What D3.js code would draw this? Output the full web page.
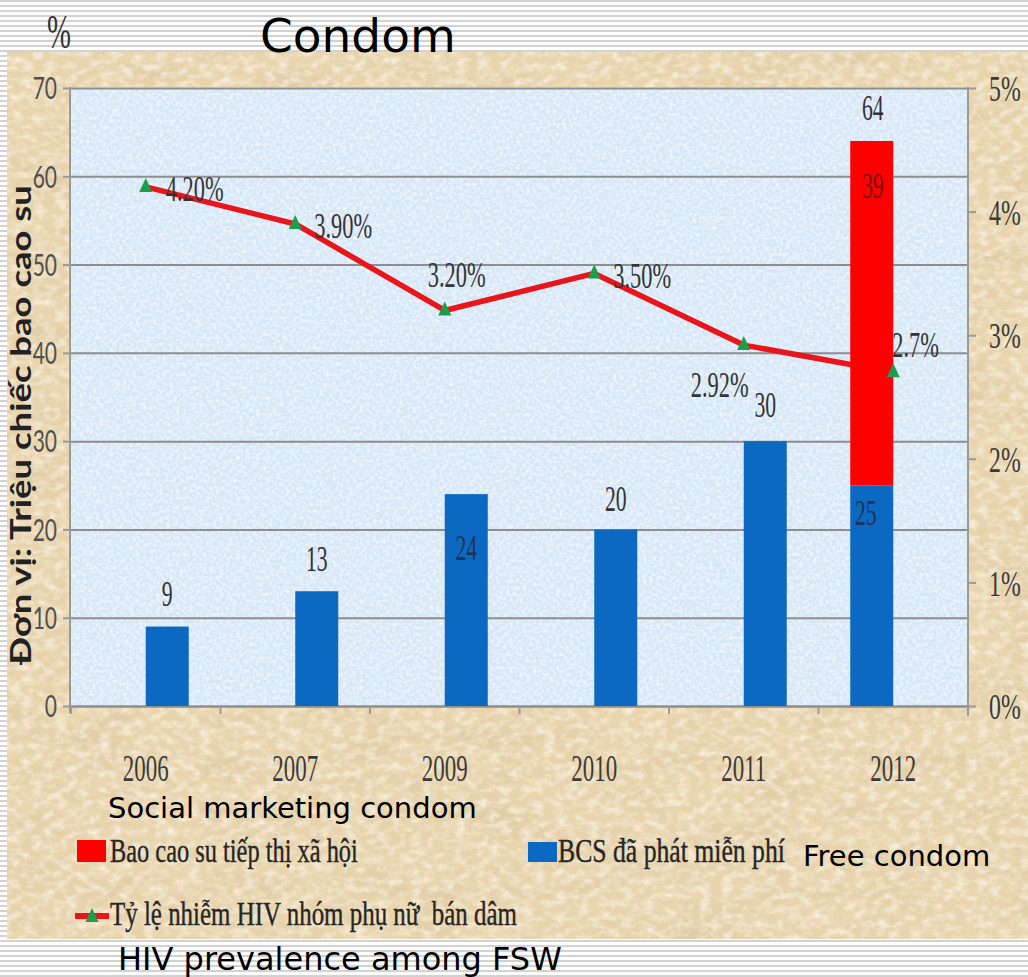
<!DOCTYPE html>
<html><head><meta charset="utf-8">
<script src="https://cdn.jsdelivr.net/npm/d3@7"></script>
<style>html,body{margin:0;padding:0;background:#fff;overflow:hidden}</style>
</head><body>
<svg id="c" width="1028" height="977"></svg>
<script>
// ---- data ----
const categories = ["2006","2007","2009","2010","2011","2012"];
const freeCondom = [9,13,24,20,30,25];
const socialMarketing = [0,0,0,0,0,39];
const hivPrevalence = [4.2,3.9,3.2,3.5,2.92,2.7];
const hivLabels = ["4.20%","3.90%","3.20%","3.50%","2.92%","2.7%"];
const leftTicks = [0,10,20,30,40,50,60,70];
const rightTicks = [0,1,2,3,4,5];
const legendLabels = ["Bao cao su tiếp thị xã hội","BCS đã phát miễn phí","Tỷ lệ nhiễm HIV nhóm phụ nữ  bán dâm"];
const englishNotes = ["Social marketing condom","Free condom","HIV prevalence among FSW"];
const chartTitle = "Condom";
const yTitle = "Đơn vị: Triệu chiếc bao cao su";

// ---- style ----
const barSlot = ["right","right","right","right","right","left"];
const freeLabelDy = [-21,-20,66,-18,-24,40];
const freeLabelDx = [0,0,0,0,0,-6];
const freeLabelColor = ["#333","#333","#1b3357","#333","#333","#1b3357"];
const lineLabelPos = [[20,14,"start"],[19,14,"start"],[12,-23,"middle"],[19,15,"start"],[-24,52,"middle"],[-1,-15,"start"]];
const SERIF = "'Liberation Serif','Times New Roman',serif";
const SANS = "'DejaVu Sans',Verdana,sans-serif";

const svg = d3.select("#c");
const defs = svg.append("defs");
const pat = defs.append("pattern").attr("id","stripes").attr("width",10).attr("height",5).attr("patternUnits","userSpaceOnUse");
pat.append("rect").attr("width",10).attr("height",5).attr("fill","#ffffff");
pat.append("rect").attr("width",10).attr("height",2).attr("fill","#d2d2d2");

const f1 = defs.append("filter").attr("id","parch").attr("x",0).attr("y",0).attr("width",1).attr("height",1);
f1.append("feTurbulence").attr("type","fractalNoise").attr("baseFrequency","0.015 0.04").attr("numOctaves",5).attr("seed",4);
f1.append("feColorMatrix").attr("type","matrix").attr("values","0 0 0 0 0.68  0 0 0 0 0.54  0 0 0 0 0.32  1.0 0 0 0 -0.42");
const f2 = defs.append("filter").attr("id","parch2").attr("x",0).attr("y",0).attr("width",1).attr("height",1);
f2.append("feTurbulence").attr("type","fractalNoise").attr("baseFrequency","0.09 0.14").attr("numOctaves",3).attr("seed",9);
f2.append("feColorMatrix").attr("type","matrix").attr("values","0 0 0 0 1  0 0 0 0 0.97  0 0 0 0 0.9  1.4 0 0 0 -0.55");
const f3 = defs.append("filter").attr("id","speck").attr("x",0).attr("y",0).attr("width",1).attr("height",1);
f3.append("feTurbulence").attr("type","fractalNoise").attr("baseFrequency","0.3").attr("numOctaves",2).attr("seed",7);
f3.append("feColorMatrix").attr("type","matrix").attr("values","0 0 0 0 1  0 0 0 0 1  0 0 0 0 1  1.6 0 0 0 -0.6");

// background
svg.append("rect").attr("width",1028).attr("height",977).attr("fill","url(#stripes)");
svg.append("rect").attr("x",7).attr("y",52).attr("width",1021).attr("height",887).attr("fill","#e8d4ad");
svg.append("rect").attr("x",7).attr("y",52).attr("width",1021).attr("height",887).attr("filter","url(#parch)");
svg.append("rect").attr("x",7).attr("y",52).attr("width",1021).attr("height",887).attr("filter","url(#parch2)");

// scales
const L = 70, R = 968, T = 88, B = 706;
const x = d3.scaleBand().domain(categories).range([L+1, R]);
const y = d3.scaleLinear().domain([0,70]).range([B,T]);
const y2 = d3.scaleLinear().domain([0,5]).range([B,T]);
const slot = d3.scaleBand().domain(["left","right"]).range([-43,43]);
const cx = c => x(c) + x.bandwidth()/2;

// plot area
svg.append("rect").attr("x",L).attr("y",T-1).attr("width",R-L).attr("height",B-T+1).attr("fill","#d5e6f6");
svg.append("rect").attr("x",L).attr("y",T-1).attr("width",R-L).attr("height",B-T+1).attr("filter","url(#speck)");

// gridlines
const grid = svg.append("g").attr("transform",`translate(${L},0)`)
  .call(d3.axisLeft(y).tickValues(leftTicks).tickSize(-(R-L)).tickFormat(""));
grid.select(".domain").remove();
grid.selectAll("line").attr("stroke","#8e8e8e").attr("stroke-width",2);

// left axis
const la = svg.append("g").attr("transform",`translate(${L},0)`)
  .call(d3.axisLeft(y).tickValues(leftTicks).tickSize(7));
la.select(".domain").remove();
la.selectAll("line").attr("stroke","#999").attr("stroke-width",2);
la.selectAll("text").attr("font-family","Lato,'Open Sans',sans-serif").attr("font-size",30)
  .attr("fill","#505050").attr("transform","scale(0.7,1)").attr("x",-13/0.7).attr("dy","0.36em");
svg.append("line").attr("x1",L).attr("x2",L).attr("y1",T-1).attr("y2",B+7).attr("stroke","#9a9a9a").attr("stroke-width",2);

// right axis
const ra = svg.append("g").attr("transform",`translate(${R},0)`)
  .call(d3.axisRight(y2).tickValues(rightTicks).tickSize(8).tickFormat(d => d + "%"));
ra.select(".domain").remove();
ra.selectAll("line").attr("stroke","#999").attr("stroke-width",2);
ra.selectAll("text").attr("font-family",SERIF).attr("font-size",35).attr("fill","#3a3a3a")
  .attr("transform","scale(0.68,1)").attr("x",21/0.68).attr("dy","0.36em");
svg.append("line").attr("x1",R).attr("x2",R).attr("y1",T-1).attr("y2",B+10).attr("stroke","#9a9a9a").attr("stroke-width",2);

// bottom axis
const ba = svg.append("g").attr("transform",`translate(0,${B})`)
  .call(d3.axisBottom(x).tickSize(0).tickPadding(0));
ba.select(".domain").attr("stroke","#8e8e8e").attr("stroke-width",2);
ba.selectAll("text").attr("font-family",SERIF).attr("font-size",37).attr("fill","#3a3a3a")
  .attr("transform","scale(0.62,1)").attr("y",75).attr("dy",0);
svg.append("g").selectAll("line").data(categories.concat(["__end"])).join("line")
  .attr("x1",d => d === "__end" ? R : x(d)).attr("x2",d => d === "__end" ? R : x(d))
  .attr("y1",B).attr("y2",B+8).attr("stroke","#999").attr("stroke-width",2);

// HIV line (behind bars)
const pts = categories.map((c,i) => ({c, v: hivPrevalence[i], lab: hivLabels[i], i}));
svg.append("path").datum(pts)
  .attr("d", d3.line().x(d => cx(d.c)).y(d => y2(d.v)))
  .attr("fill","none").attr("stroke","#e8151b").attr("stroke-width",5.5).attr("stroke-linejoin","round");

// bars
const bars = categories.map((c,i) => ({c, free: freeCondom[i], soc: socialMarketing[i], slot: barSlot[i], i}));
svg.append("g").selectAll("rect").data(bars).join("rect")
  .attr("x", d => cx(d.c) + slot(d.slot)).attr("width", slot.bandwidth())
  .attr("y", d => y(d.free)).attr("height", d => y(0) - y(d.free)).attr("fill","#0b69c2");
svg.append("g").selectAll("rect").data(bars.filter(d => d.soc > 0)).join("rect")
  .attr("x", d => cx(d.c) + slot(d.slot)).attr("width", slot.bandwidth())
  .attr("y", d => y(d.free + d.soc)).attr("height", d => y(d.free) - y(d.free + d.soc)).attr("fill","#fe0000");

// markers
const tri = "M0,-9L6.5,5L-6.5,5Z";
svg.append("g").selectAll("path").data(pts).join("path")
  .attr("d", tri).attr("transform", d => `translate(${cx(d.c)},${y2(d.v)})`).attr("fill","#1c9e4c");

// condensed text helper
function ctext(g, px, py, str, size, sx, anchor, color, family) {
  return g.append("text").attr("transform",`translate(${px},${py}) scale(${sx},1)`)
    .attr("text-anchor",anchor).attr("font-family",family || SERIF).attr("font-size",size)
    .attr("fill",color).style("white-space","pre").text(str);
}
// text fitted to a width by horizontal scaling
function fitText(g, px, py, str, size, width, color, family, weight, rot) {
  const t = g.append("text").attr("font-family",family).attr("font-size",size)
    .attr("font-weight",weight || "normal").attr("fill",color).style("white-space","pre").text(str);
  const w = t.node().getComputedTextLength();
  const s = width / w;
  if (rot) t.attr("text-anchor","middle").attr("transform",`translate(${px},${py}) rotate(${rot}) scale(${s},1)`);
  else t.attr("transform",`translate(${px},${py}) scale(${s},1)`);
  return t;
}
const lg = svg.append("g");
// line labels
pts.forEach(d => {
  const p = lineLabelPos[d.i];
  ctext(lg, cx(d.c) + p[0], y2(d.v) + p[1], d.lab, 35, 0.64, p[2], "#333");
});
// bar labels
bars.forEach(d => {
  const bx = cx(d.c) + slot(d.slot) + slot.bandwidth()/2;
  ctext(lg, bx + freeLabelDx[d.i], y(d.free) + freeLabelDy[d.i], String(d.free), 35, 0.62, "middle", freeLabelColor[d.i]);
  if (d.soc > 0) {
    ctext(lg, bx + 1, y(d.free + d.soc) + 57, String(d.soc), 35, 0.62, "middle", "#7a1010");
    ctext(lg, bx + 1, y(d.free + d.soc) - 21, String(d.free + d.soc), 35, 0.62, "middle", "#333");
  }
});

// titles
svg.append("text").attr("x",260).attr("y",52).attr("font-family",SANS).attr("font-size",47).attr("fill","#000").text(chartTitle);
ctext(svg, 59, 48, "%", 48, 0.6, "middle", "#333");
fitText(svg, 31, 425, yTitle, 28, 480, "#222", "Lato,'Liberation Sans',sans-serif", "bold", -90);

// legend
const leg = svg.append("g");
leg.append("rect").attr("x",77).attr("y",840).attr("width",29).attr("height",22).attr("fill","#fe0000");
fitText(leg, 110, 862, legendLabels[0], 33, 248, "#262626", SERIF).attr("stroke","#262626").attr("stroke-width",0.4);
leg.append("rect").attr("x",528).attr("y",842).attr("width",29).attr("height",20).attr("fill","#0b69c2");
fitText(leg, 558, 862, legendLabels[1], 33, 227, "#262626", SERIF).attr("stroke","#262626").attr("stroke-width",0.4);
leg.append("line").attr("x1",75).attr("x2",109).attr("y1",916).attr("y2",916).attr("stroke","#e8151b").attr("stroke-width",6);
leg.append("path").attr("d",tri).attr("transform","translate(92,917)").attr("fill","#1c9e4c");
fitText(leg, 110, 925, legendLabels[2], 33, 407, "#262626", SERIF).attr("stroke","#262626").attr("stroke-width",0.4);

// english notes
svg.append("text").attr("x",108).attr("y",818).attr("font-family",SANS).attr("font-size",29).attr("fill","#000").text(englishNotes[0]);
svg.append("text").attr("x",803).attr("y",866).attr("font-family",SANS).attr("font-size",29).attr("fill","#000").text(englishNotes[1]);
svg.append("text").attr("x",118).attr("y",970).attr("font-family",SANS).attr("font-size",32).attr("fill","#000").text(englishNotes[2]);
</script>
</body></html>
